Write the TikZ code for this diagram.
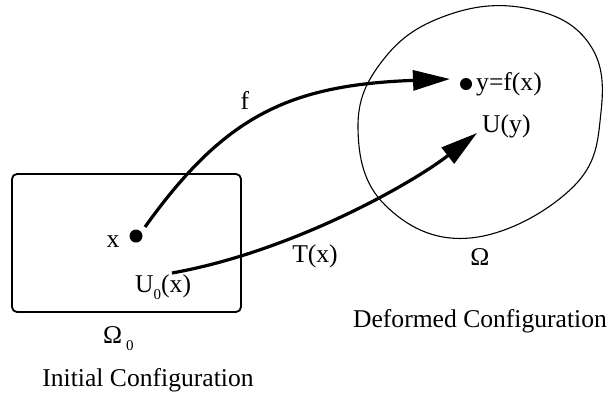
\documentclass[tikz,border=0pt]{standalone}
\usepackage{fontspec}
\setmainfont{Liberation Serif}
\usetikzlibrary{arrows.meta}
\tikzset{
  dot/.style={circle, fill=black, inner sep=0pt, minimum size=#1},
  lbl/.style={inner sep=0pt, anchor=base},
  arr/.style={line width=3.2pt, -{Triangle[length=37pt, width=20pt]}},
}
\newcommand{\subz}{\raisebox{-7pt}{\fontsize{15}{15}\selectfont 0}}
\begin{document}
\begin{tikzpicture}[x=1pt, y=-1pt, font=\fontsize{25.6}{30}\selectfont]
\useasboundingbox (0,0) rectangle (610,397);
% initial configuration box
\draw[line width=1.8pt, rounded corners=5pt] (12,174) rectangle (241,312);
% deformed blob
\draw[line width=1.1pt] plot[smooth cycle, tension=0.7] coordinates {
  (358,128) (383,60) (445,16) (525,8) (588,42) (601,112)
  (572,188) (470,238) (385,205)};
% points
\node[dot=13pt] (xdot) at (136,236) {};
\node[dot=12pt] (ydot) at (466,84) {};
% labels
\node[lbl] (xl) at (113,247) {x};
\node[lbl, anchor=base west] (u0) at (135,292) {U\subz(x)};
\node[lbl, anchor=base west] (om0) at (103,343) {Ω\hspace{4pt}\subz};
\node[lbl] (ic) at (148,386) {Initial Configuration};
\node[lbl, anchor=base west] (yl) at (476,90) {y=f(x)};
\node[lbl, anchor=base west] (uy) at (482,132) {U(y)};
\node[lbl] (om) at (480,265) {Ω};
\node[lbl] (dc) at (480,327) {Deformed Configuration};
\node[lbl] (fl) at (245,109) {f};
\node[lbl] (tl) at (315,262) {T(x)};
% connectors
\coordinate (fs) at (145,227);
\coordinate (fe) at (450,79);
\coordinate (ts) at (172,273);
\coordinate (te) at (477,133);
\draw[arr] (fs) .. controls (225,115) and (290,85) .. (fe);
\draw[arr] (ts) .. controls (290,252) and (410,185) .. (te);
\end{tikzpicture}
\end{document}
